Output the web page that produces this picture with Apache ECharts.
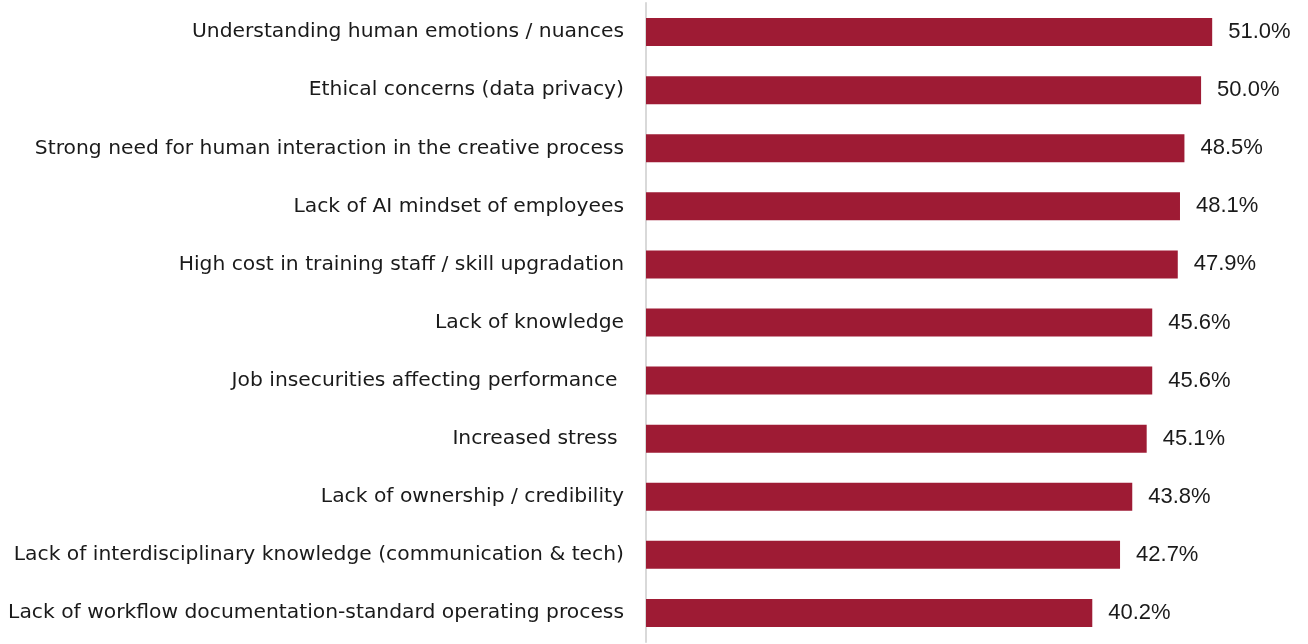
<!DOCTYPE html>
<html>
<head>
	<meta charset="utf-8">
	<title>Challenges</title>
	<style>
		html, body { margin: 0; padding: 0; background: #fff; }
	</style>
</head>

<body>
	<div style="width:1308px;height:644px;" id="chart1"></div>

	<script src="https://cdn.jsdelivr.net/npm/echarts@6/dist/echarts.min.js"></script>
	<script>

	// categories, top to bottom as shown
	var categories = [
		'Understanding human emotions / nuances',
		'Ethical concerns (data privacy)',
		'Strong need for human interaction in the creative process',
		'Lack of AI mindset of employees',
		'High cost in training staff / skill upgradation',
		'Lack of knowledge',
		'Job insecurities affecting performance ',
		'Increased stress ',
		'Lack of ownership / credibility',
		'Lack of interdisciplinary knowledge (communication & tech)',
		'Lack of workflow documentation-standard operating process'
	];
	var values = [51.0, 50.0, 48.5, 48.1, 47.9, 45.6, 45.6, 45.1, 43.8, 42.7, 40.2];

	var myChart = echarts.init(document.getElementById('chart1'));

	var option = {
		animation: false,
		grid: {
			left: 646,
			right: 7,
			top: 3,
			bottom: 2
		},
		xAxis: {
			type: 'value',
			min: 0,
			max: 59,
			show: false
		},
		yAxis: {
			type: 'category',
			inverse: true,
			data: categories,
			axisLine: { show: true, lineStyle: { color: '#d9d9d9', width: 2 } },
			axisTick: { show: false },
			axisLabel: {
				margin: 22,
				color: '#1a1a1a',
				fontSize: 20.3,
				fontFamily: 'DejaVu Sans, sans-serif'
			}
		},
		series: [
			{
				type: 'bar',
				data: values,
				barWidth: 28,
				itemStyle: { color: '#9e1b34' },
				label: {
					show: true,
					position: 'right',
					distance: 16,
					color: '#1a1a1a',
					fontSize: 22,
					fontFamily: 'Liberation Sans, Arial, sans-serif',
					formatter: function (p) { return p.value.toFixed(1) + '%'; }
				}
			}
		]
	};

	myChart.setOption(option);

	</script>
</body>

</html>
